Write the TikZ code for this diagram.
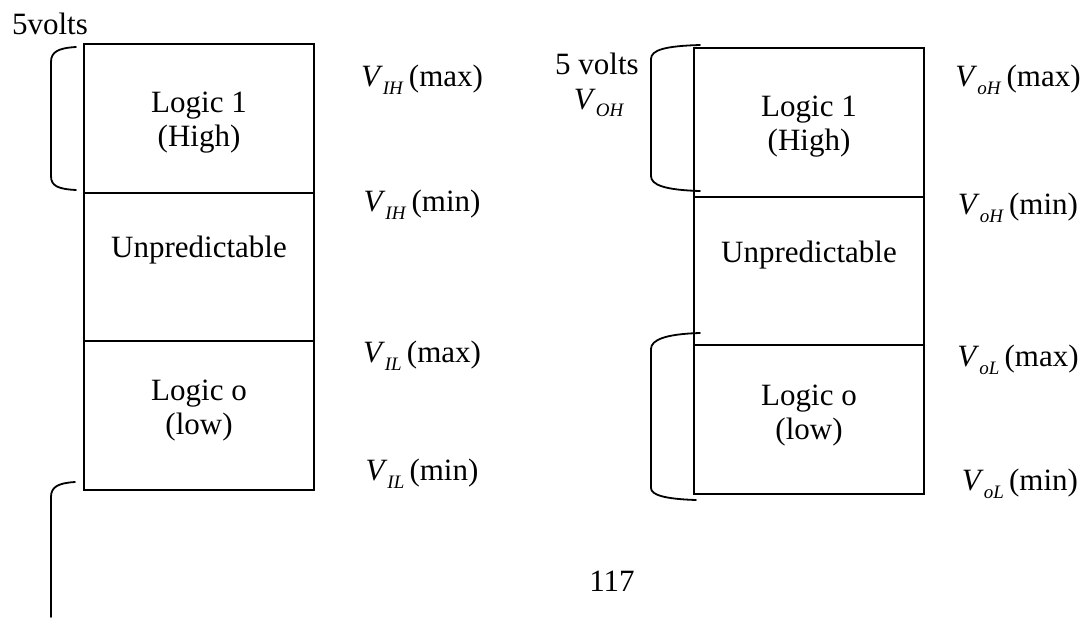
\documentclass[tikz,border=0pt]{standalone}
\usepackage{fontspec}
\setmainfont{Liberation Serif}
\usetikzlibrary{positioning}

\newcommand{\vsub}[1]{\textit{V}\raisebox{-0.55ex}{\fontsize{9.5}{9.5}\selectfont\textit{#1}}}
\newcommand{\vlev}[2]{\vsub{#1}\,(#2)}
\tikzset{
  cell/.style={draw, line width=0.6pt},
  txt/.style={inner sep=0pt, align=center, font=\fontsize{15.5}{17}\selectfont},
  brace/.style={line width=0.9pt, line cap=round}
}

\begin{document}
\begin{tikzpicture}[x=0.5pt, y=-0.5pt]
    \useasboundingbox (0,0) rectangle (1088,618);

    % input levels
    \begin{scope}
      \draw[cell] (84,44) rectangle (314,193);
      \draw[cell] (84,193) rectangle (314,341);
      \draw[cell] (84,341) rectangle (314,490);
      \node[txt] (inhigh) at (199,123) {Logic 1\\(High)};
      \node[txt] (inmid) at (199,250) {Unpredictable};
      \node[txt] (inlow) at (199,411) {Logic o\\(low)};

      \node[txt] (infive) at (50,24) {5volts};
      \node[txt] (vihmax) at (422,80) {\vlev{IH}{max}};
      \node[txt] (vihmin) at (422,205) {\vlev{IH}{min}};
      \node[txt] (vilmax) at (422,356) {\vlev{IL}{max}};
      \node[txt] (vilmin) at (422,474) {\vlev{IL}{min}};

      \draw[brace] (76,47) .. controls (58,48) and (51,52) .. (51,62) -- (51,176)
                   .. controls (51,186) and (58,189) .. (76,190);
      \draw[brace] (75,482) .. controls (58,483) and (51,487) .. (51,497) -- (51,617);
    \end{scope}

    % output levels
    \begin{scope}
      \draw[cell] (694,48) rectangle (924,197);
      \draw[cell] (694,197) rectangle (924,345);
      \draw[cell] (694,345) rectangle (924,494);
      \node[txt] (outhigh) at (809,127) {Logic 1\\(High)};
      \node[txt] (outmid) at (809,255) {Unpredictable};
      \node[txt] (outlow) at (809,416) {Logic o\\(low)};

      \node[txt] (outfive) at (597,64) {5 volts};
      \node[txt] (voh) at (599,103) {\vsub{OH}};
      \node[txt] (vohmax) at (1018,80) {\vlev{oH}{max}};
      \node[txt] (vohmin) at (1018,208) {\vlev{oH}{min}};
      \node[txt] (volmax) at (1018,360) {\vlev{oL}{max}};
      \node[txt] (volmin) at (1020,484) {\vlev{oL}{min}};

      \draw[brace] (700,45) .. controls (665,46) and (651,50) .. (651,59) -- (651,176)
                   .. controls (651,185) and (665,190) .. (700,191);
      \draw[brace] (700,333) .. controls (665,334) and (651,340) .. (651,349) -- (651,488)
                   .. controls (651,495) and (665,499) .. (696,500);
    \end{scope}

    \node[txt] (page) at (612,581) {117};
\end{tikzpicture}
\end{document}
